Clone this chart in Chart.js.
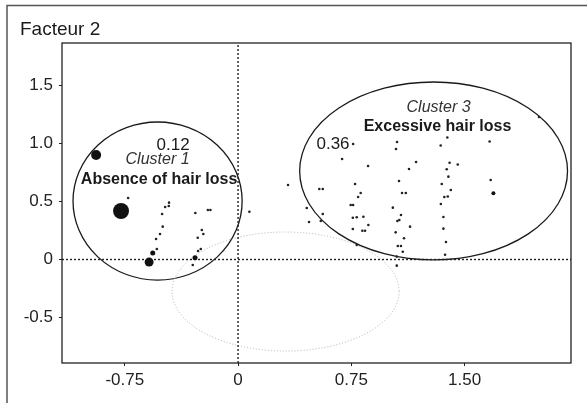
<!DOCTYPE html>
<html><head><meta charset="utf-8">
<script src="https://cdn.jsdelivr.net/npm/chart.js@4/dist/chart.umd.min.js"></script>
<style>html,body{margin:0;padding:0;background:#fff;}#wrap{width:587px;height:403px;position:relative;}</style>
</head><body>
<div id="wrap"><canvas id="c" width="587" height="403"></canvas></div>
<script>
// ---- axes ----
const xTickValues = [-0.75, 0, 0.75, 1.5];
const xTickLabels = ['-0.75', '0', '0.75', '1.50'];
const yTickValues = [-0.5, 0, 0.5, 1.0, 1.5];
const yTickLabels = ['-0.5', '0', '0.5', '1.0', '1.5'];
const xRange = [-1.166, 2.205];
const yRange = [-0.892, 1.866];
const axisTitle = 'Facteur 2';

// ---- individuals (small dots) ----
const smallX = [-0.728,-0.457,-0.483,-0.459,-0.503,-0.499,-0.517,-0.543,-0.538,-0.283,-0.2,-0.183,-0.24,-0.23,-0.267,-0.247,-0.265,-0.3,0.075,0.455,0.47,0.331,
  0.538,0.561,0.561,0.548,0.762,0.689,1.053,1.046,1.179,0.861,1.132,1.066,0.775,0.812,1.086,1.111,0.795,0.746,0.762,1.025,1.079,0.76,0.786,0.83,1.055,1.068,0.863,1.139,0.76,0.823,0.841,1.044,1.099,1.058,1.079,1.091,0.786,1.051,
  1.386,1.342,1.666,1.401,1.455,1.382,1.393,1.349,1.409,1.366,1.389,1.343,1.673,1.36,1.36,1.377,1.371,1.993,1.051];
const smallY = [0.53,0.49,0.453,0.461,0.392,0.283,0.22,0.177,0.091,0.401,0.427,0.427,0.254,0.22,0.188,0.091,0.073,-0.047,0.412,0.444,0.323,0.642,
  0.608,0.608,0.392,0.332,0.996,0.866,1.013,0.953,0.84,0.806,0.78,0.677,0.651,0.573,0.573,0.573,0.539,0.47,0.47,0.447,0.384,0.36,0.364,0.369,0.332,0.341,0.297,0.283,0.263,0.248,0.248,0.234,0.183,0.116,0.116,0.067,0.125,-0.053,
  1.052,0.983,1.017,0.834,0.819,0.778,0.714,0.651,0.599,0.539,0.543,0.478,0.685,0.366,0.266,0.151,0.041,1.228,0.025];

// ---- medium and large markers ----
const mediumX = [-0.565, -0.285, 1.691];
const mediumY = [0.056, 0.016, 0.571];
const bigX = [-0.94, -0.775, -0.589];
const bigY = [0.90, 0.418, -0.022];

// ---- clusters (ellipses, data units) ----
const clusterNames = ['Cluster 1', 'Cluster 2', 'Cluster 3'];
const clusterCX = [-0.533, 0.315, 1.295];
const clusterCY = [0.504, -0.276, 0.763];
const clusterRX = [0.56, 0.752, 0.887];
const clusterRY = [0.681, 0.513, 0.767];
const clusterShare = ['0.12', '', '0.36'];
const clusterLabel = ['Absence of hair loss', '', 'Excessive hair loss'];

const toPts = (xs, ys) => xs.map((x, i) => ({x: x, y: ys[i]}));
const FONT = '"Liberation Sans", Arial, sans-serif';

const deco = {
  id: 'deco',
  beforeDraw(chart) {
    const c = chart.ctx;
    c.save();
    c.fillStyle = '#fff';
    c.fillRect(0, 0, chart.width, chart.height);
    // outer frame
    c.strokeStyle = '#555';
    c.lineWidth = 1.5;
    c.beginPath();
    c.moveTo(7, chart.height);
    c.lineTo(7, 5.5);
    c.lineTo(chart.width, 5.5);
    c.stroke();
    c.restore();
  },
  beforeDatasetsDraw(chart) {
    const c = chart.ctx, xs = chart.scales.x, ys = chart.scales.y;
    const kx = xs.getPixelForValue(1) - xs.getPixelForValue(0);
    const ky = ys.getPixelForValue(0) - ys.getPixelForValue(1);
    c.save();
    clusterNames.forEach((n, i) => {
      c.beginPath();
      c.ellipse(xs.getPixelForValue(clusterCX[i]), ys.getPixelForValue(clusterCY[i]),
        clusterRX[i] * kx, clusterRY[i] * ky, 0, 0, Math.PI * 2);
      if (i === 1) {
        c.strokeStyle = '#b4b4b4'; c.lineWidth = 1; c.setLineDash([1, 2]);
      } else {
        c.strokeStyle = '#1a1a1a'; c.lineWidth = 1.3; c.setLineDash([]);
      }
      c.stroke();
    });
    c.restore();
  },
  afterDatasetsDraw(chart) {
    const c = chart.ctx, a = chart.chartArea, xs = chart.scales.x, ys = chart.scales.y;
    c.save();
    c.strokeStyle = '#222';
    c.lineWidth = 1.3;
    c.strokeRect(a.left, a.top, a.right - a.left, a.bottom - a.top);
    const X = v => xs.getPixelForValue(v), Y = v => ys.getPixelForValue(v);
    c.fillStyle = '#1a1a1a';
    c.textBaseline = 'alphabetic';
    c.textAlign = 'center';
    // cluster 1
    c.font = '17px ' + FONT;
    c.fillText(clusterShare[0], X(-0.43), Y(0.944));
    c.font = 'italic 16px ' + FONT;
    c.fillStyle = '#333';
    c.fillText(clusterNames[0], X(-0.533), Y(0.823));
    c.fillStyle = '#1a1a1a';
    c.font = 'bold 16px ' + FONT;
    c.fillText(clusterLabel[0], X(-0.523), Y(0.651));
    // cluster 3
    c.font = 'italic 16px ' + FONT;
    c.fillStyle = '#333';
    c.fillText(clusterNames[2], X(1.328), Y(1.272));
    c.fillStyle = '#1a1a1a';
    c.font = 'bold 16px ' + FONT;
    c.fillText(clusterLabel[2], X(1.321), Y(1.108));
    c.font = '17px ' + FONT;
    c.fillText(clusterShare[2], X(0.629), Y(0.953));
    // axis title
    c.textAlign = 'left';
    c.font = '19px ' + FONT;
    c.fillText(axisTitle, 20, 35);
    c.restore();
  }
};

new Chart(document.getElementById('c'), {
  type: 'scatter',
  data: {
    datasets: [
      { type: 'line', data: [{x: xRange[0], y: 0}, {x: xRange[1], y: 0}], borderColor: '#222', borderWidth: 1.4, borderDash: [2, 2], pointRadius: 0, order: 5 },
      { type: 'line', data: [{x: 0, y: yRange[0]}, {x: 0, y: yRange[1]}], borderColor: '#222', borderWidth: 1.4, borderDash: [2, 2], pointRadius: 0, order: 5 },
      { data: toPts(smallX, smallY), pointRadius: 1.3, pointBackgroundColor: '#222', pointBorderWidth: 0, order: 1 },
      { data: toPts(mediumX, mediumY), pointRadius: [2.5, 2.5, 2], pointBackgroundColor: '#111', pointBorderWidth: 0, order: 1 },
      { data: toPts(bigX, bigY), pointRadius: [5, 8, 4.5], pointBackgroundColor: '#111', pointBorderWidth: 0, order: 1 }
    ]
  },
  options: {
    responsive: false,
    animation: false,
    devicePixelRatio: 1,
    layout: { padding: { left: 0, right: 16, top: 43, bottom: 0 } },
    plugins: { legend: { display: false }, tooltip: { enabled: false }, title: { display: false } },
    elements: { line: { tension: 0 } },
    scales: {
      x: {
        type: 'linear', min: xRange[0], max: xRange[1],
        afterBuildTicks: s => { s.ticks = xTickValues.map(v => ({value: v})); },
        afterFit: s => { s.height = 40; },
        ticks: { callback: (v, i) => xTickLabels[i], color: '#222', font: { family: FONT, size: 17 }, padding: 4, maxRotation: 0, autoSkip: false },
        grid: { drawOnChartArea: false, drawTicks: true, tickLength: 3, color: '#222' },
        border: { display: false }
      },
      y: {
        type: 'linear', min: yRange[0], max: yRange[1],
        afterBuildTicks: s => { s.ticks = yTickValues.map(v => ({value: v})); },
        afterFit: s => { s.width = 62; },
        ticks: { callback: (v, i) => yTickLabels[i], color: '#222', font: { family: FONT, size: 17 }, padding: 6, autoSkip: false },
        grid: { drawOnChartArea: false, drawTicks: true, tickLength: 3, color: '#222' },
        border: { display: false }
      }
    }
  },
  plugins: [deco]
});
</script>
</body></html>
